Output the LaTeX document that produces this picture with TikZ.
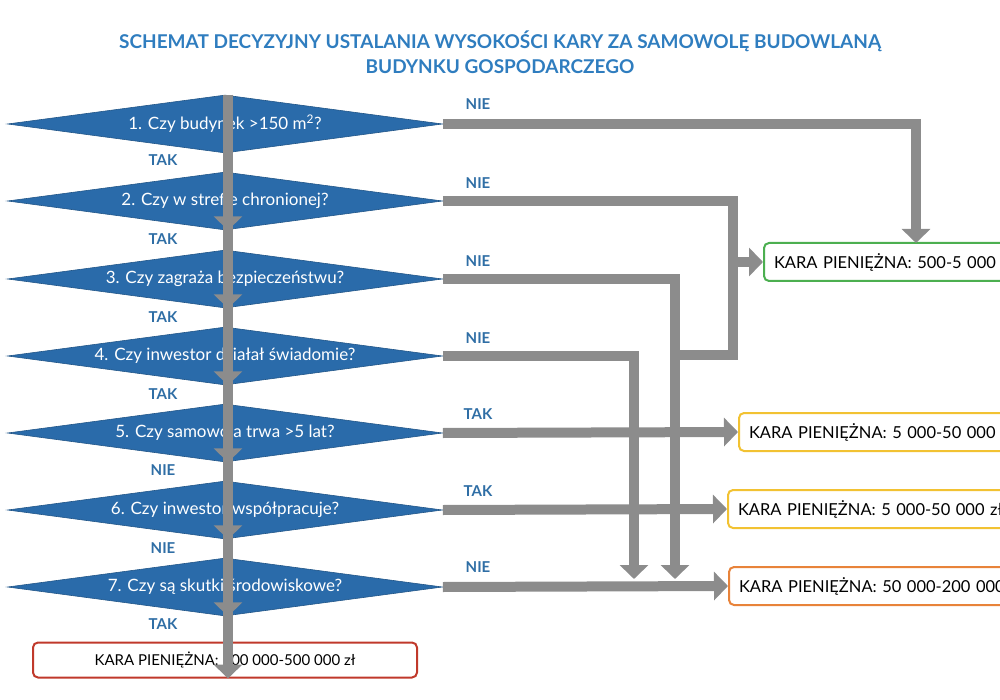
\documentclass[tikz,border=0pt]{standalone}
\usepackage{fontspec}
\setmainfont{Lato}
\usetikzlibrary{shapes.geometric,arrows.meta}
\definecolor{dblue}{HTML}{2A6BAA}
\definecolor{tblue}{HTML}{2F7DBF}
\definecolor{lblue}{HTML}{2F6EA5}
\definecolor{cgray}{HTML}{8C8C8C}
\definecolor{cgreen}{HTML}{4CAF50}
\definecolor{cyellow}{HTML}{F2C232}
\definecolor{corange}{HTML}{E8833A}
\definecolor{cred}{HTML}{C0392B}
\begin{document}
\begin{tikzpicture}[x=1pt,y=-1pt,
  q/.style={diamond,aspect=7.5,fill=dblue,draw=dblue!80!black,line width=0.6pt,inner sep=0pt,minimum width=435pt,minimum height=58pt,text=white,font=\fontsize{17}{19}\selectfont},
  conn/.style={draw=cgray,line width=10pt,line join=miter,-{Triangle[width=28pt,length=14pt]}},
  line/.style={draw=cgray,line width=10pt,line join=miter},
  lab/.style={text=lblue,font=\bfseries\fontsize{15}{17}\selectfont},
  box/.style={draw=#1,line width=2pt,rounded corners=5pt,fill=white,minimum height=38pt,inner xsep=10pt,font=\fontsize{16.5}{18}\selectfont},
  res/.style={box=#1,anchor=west,text width=300pt,align=left}]
\useasboundingbox (0,0) rectangle (1000,700);
\node[text=tblue,font=\bfseries\fontsize{19}{25}\selectfont,align=center] (title) at (500,52) {SCHEMAT DECYZYJNY USTALANIA WYSOKOŚCI KARY ZA SAMOWOLĘ BUDOWLANĄ\\BUDYNKU GOSPODARCZEGO};
\node[q] (q1) at (225,124) {1. Czy budynek >150 m\textsuperscript{2}?};
\node[q] (q2) at (225,201) {2. Czy w strefie chronionej?};
\node[q] (q3) at (225,279) {3. Czy zagraża bezpieczeństwu?};
\node[q] (q4) at (225,356) {4. Czy inwestor działał świadomie?};
\node[q] (q5) at (225,433) {5. Czy samowola trwa >5 lat?};
\node[q] (q6) at (225,510) {6. Czy inwestor współpracuje?};
\node[q] (q7) at (225,587) {7. Czy są skutki środowiskowe?};
\node[box=cred,minimum width=384pt,minimum height=35pt,font=\fontsize{15}{17}\selectfont] (r7) at (225,660) {KARA PIENIĘŻNA: 200 000-500 000 zł};
\node[res=cgreen] (rg) at (763,262) {KARA PIENIĘŻNA: 500-5 000 zł};
\node[res=cyellow] (ry1) at (738,432) {KARA PIENIĘŻNA: 5 000-50 000 zł};
\node[res=cyellow] (ry2) at (727,509) {KARA PIENIĘŻNA: 5 000-50 000 zł};
\node[res=corange] (ro) at (728,586) {KARA PIENIĘŻNA: 50 000-200 000 zł};
\coordinate (g1) at (916,243);
\coordinate (v2) at (733,355);
\coordinate (v3) at (675,579);
\coordinate (v4) at (634,579);
\coordinate (j3) at (675,355);
% connectors
\draw[conn] (q1.east) -| (g1);
\draw[line] (q2.east) -| (v2) -- (j3);
\draw[conn] (733,262) -- (rg.west);
\draw[conn] (q3.east) -| (v3);
\draw[conn] (q4.east) -| (v4);
\draw[conn] (q5.east) -- (ry1.west);
\draw[conn] (q6.east) -- (ry2.west);
\draw[conn] (q7.east) -- (ro.west);
\foreach \a/\b in {q1/q2,q2/q3,q3/q4,q4/q5,q5/q6,q6/q7} \draw[conn] ([xshift=3pt]\a.north) -- ([xshift=3pt]\b.south);
\draw[conn] ([xshift=3pt]q7.north) -- ([xshift=3pt]r7.south);
% labels
\node[lab] at (478,104) {NIE};
\node[lab] at (478,183) {NIE};
\node[lab] at (478,261) {NIE};
\node[lab] at (478,338) {NIE};
\node[lab] at (478,414) {TAK};
\node[lab] at (478,491) {TAK};
\node[lab] at (478,567) {NIE};
\node[lab] at (163,160) {TAK};
\node[lab] at (163,239) {TAK};
\node[lab] at (163,317) {TAK};
\node[lab] at (163,394) {TAK};
\node[lab] at (163,470) {NIE};
\node[lab] at (163,548) {NIE};
\node[lab] at (163,624) {TAK};
\end{tikzpicture}
\end{document}
